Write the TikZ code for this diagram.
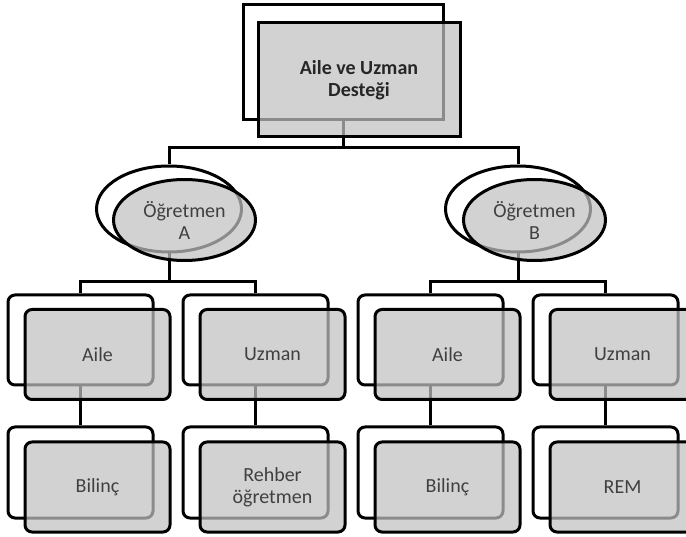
\documentclass[tikz,border=0pt]{standalone}
\usepackage{fontspec}
\setmainfont{Carlito}
\usetikzlibrary{shapes.geometric}
\begin{document}
\begin{tikzpicture}[x=1pt,y=-1pt,
  lw/.style={line width=3pt},
  conn/.style={lw, draw=black},
  backbox/.style={lw, draw=black, fill=white, rounded corners=7pt, minimum width=145pt, minimum height=90pt, inner sep=0pt},
  frontbox/.style={lw, draw=black, fill=black!24, fill opacity=0.72, text opacity=1, rounded corners=7pt, minimum width=145pt, minimum height=90pt, inner sep=0pt, align=center, font=\fontsize{20}{22}\selectfont, text=black!75},
  topback/.style={lw, draw=black, fill=white, minimum width=200pt, minimum height=115pt, inner sep=0pt},
  topfront/.style={lw, draw=black, fill=black!24, fill opacity=0.72, text opacity=1, minimum width=202pt, minimum height=114pt, inner sep=0pt, align=center, font=\fontsize{20}{22}\selectfont\bfseries, text=black!85},
  ellback/.style={lw, draw=black, fill=white, ellipse, minimum width=145pt, minimum height=86pt, inner sep=0pt},
  ellfront/.style={lw, draw=black, fill=black!24, fill opacity=0.72, text opacity=1, ellipse, minimum width=142pt, minimum height=81pt, inner sep=0pt, align=center, font=\fontsize{20}{22}\selectfont, text=black!75}
]
\clip (0,0) rectangle (686,537);
\fill[white] (0,0) rectangle (686,537);

% back shapes
\node[topback] (topB) at (343,62.5) {};
\node[ellback] (eAB) at (169,209) {};
\node[ellback] (eBB) at (518,209) {};
\node[backbox] (aAB) at (80.5,340) {};
\node[backbox] (uAB) at (255.5,340) {};
\node[backbox] (aBB) at (430.5,340) {};
\node[backbox] (uBB) at (605.5,340) {};
\node[backbox, minimum height=91pt] (bAB) at (80.5,472.5) {};
\node[backbox, minimum height=91pt] (rAB) at (255.5,472.5) {};
\node[backbox, minimum height=91pt] (bBB) at (430.5,472.5) {};
\node[backbox, minimum height=91pt] (rBB) at (605.5,472.5) {};

% junctions
\coordinate (jTop) at (343,148);
\coordinate (jA) at (169,282);
\coordinate (jB) at (518,282);

% connectors
\draw[conn] (topB.south) -- (jTop) -| (eAB.north);
\draw[conn] (jTop) -| (eBB.north);
\draw[conn] (eAB.south) -- (jA) -| (aAB.north);
\draw[conn] (jA) -| (uAB.north);
\draw[conn] (eBB.south) -- (jB) -| (aBB.north);
\draw[conn] (jB) -| (uBB.north);
\draw[conn] (aAB.south) -- (bAB.north);
\draw[conn] (uAB.south) -- (rAB.north);
\draw[conn] (aBB.south) -- (bBB.north);
\draw[conn] (uBB.south) -- (rBB.north);

% front shapes
\node[topfront] (topF) at (359,80) {Aile ve Uzman\\Desteği};
\node[ellfront] (eAF) at (184.5,220) {Öğretmen\\A};
\node[ellfront] (eBF) at (534.5,220) {Öğretmen\\B};
\node[frontbox] (aAF) at (97.5,354.5) {Aile};
\node[frontbox] (uAF) at (272.5,354.5) {Uzman};
\node[frontbox] (aBF) at (447.5,354.5) {Aile};
\node[frontbox] (uBF) at (622.5,354.5) {Uzman};
\node[frontbox] (bAF) at (97.5,487) {Bilinç};
\node[frontbox] (rAF) at (272.5,487) {Rehber\\öğretmen};
\node[frontbox] (bBF) at (447.5,487) {Bilinç};
\node[frontbox] (rBF) at (622.5,487) {REM};
\end{tikzpicture}
\end{document}
